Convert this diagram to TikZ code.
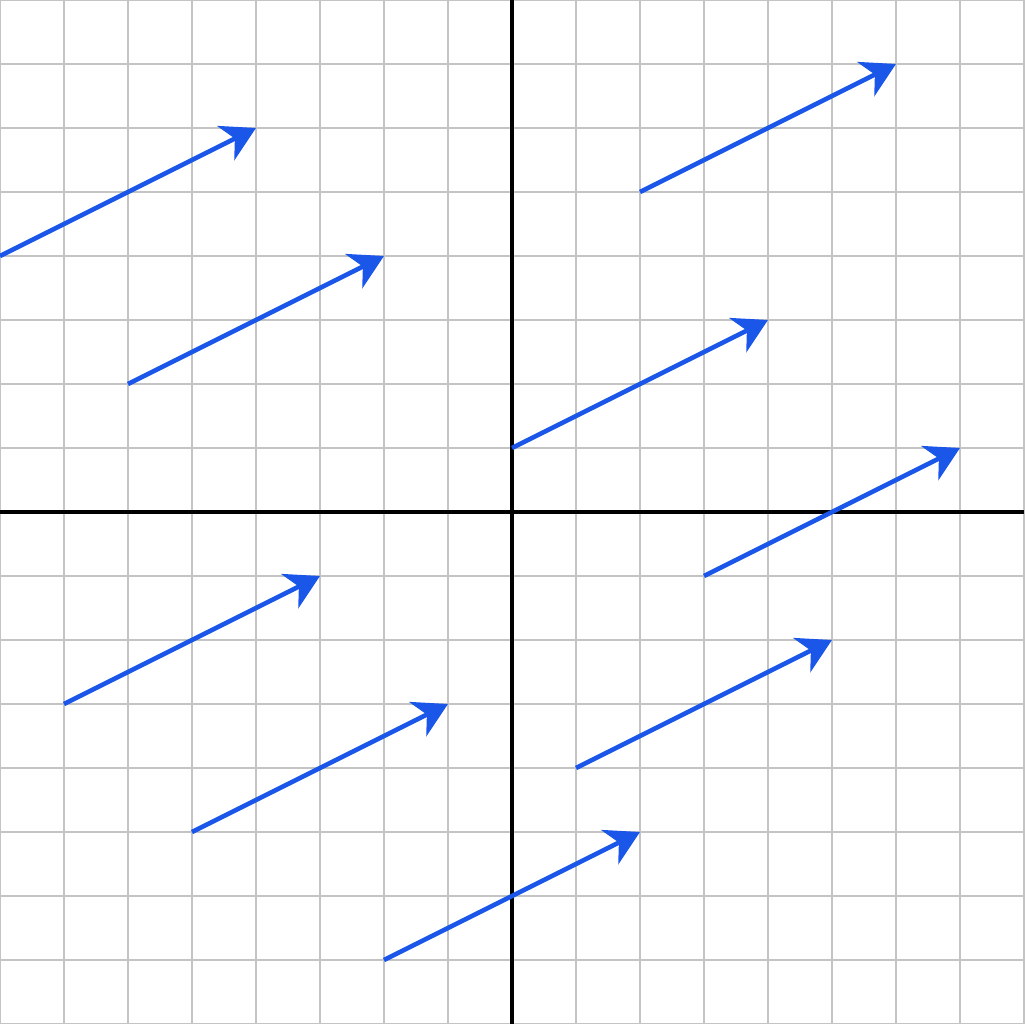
\documentclass[tikz,border=0pt]{standalone}
\usepackage{tikz}
\usetikzlibrary{arrows.meta}
\definecolor{vecblue}{RGB}{26,86,232}
\definecolor{gridgray}{RGB}{196,196,196}
\tikzset{
	gridline/.style = {draw = gridgray, line width = 0.9pt},
	axisline/.style = {draw = black, line width = 2pt},
	vec/.style = {draw = vecblue, line width = 2pt, -{Stealth[length=15pt, width=17pt, inset=4.5pt]}}
}
\begin{document}
\begin{tikzpicture}
	\useasboundingbox (-8,-8) rectangle (8,8);
	\draw [gridline] (-8,-8) grid (8,8);
	\draw [axisline] (-8,0) -- (8,0);
	\draw [axisline] (0,-8) -- (0,8);
	%\draw [gridline] (-8,-8) rectangle (8,8);
	\foreach \i/\x/\y in {1/-8/4, 2/-6/2, 3/2/5, 4/0/1, 5/3/-1, 6/-7/-3, 7/-5/-5, 8/1/-4, 9/-2/-7} {
		\coordinate (tail\i) at (\x,\y);
		\coordinate (head\i) at (\x+4,\y+2);
		\draw [vec] (tail\i) -- (head\i);
	}
\end{tikzpicture}
\end{document}
